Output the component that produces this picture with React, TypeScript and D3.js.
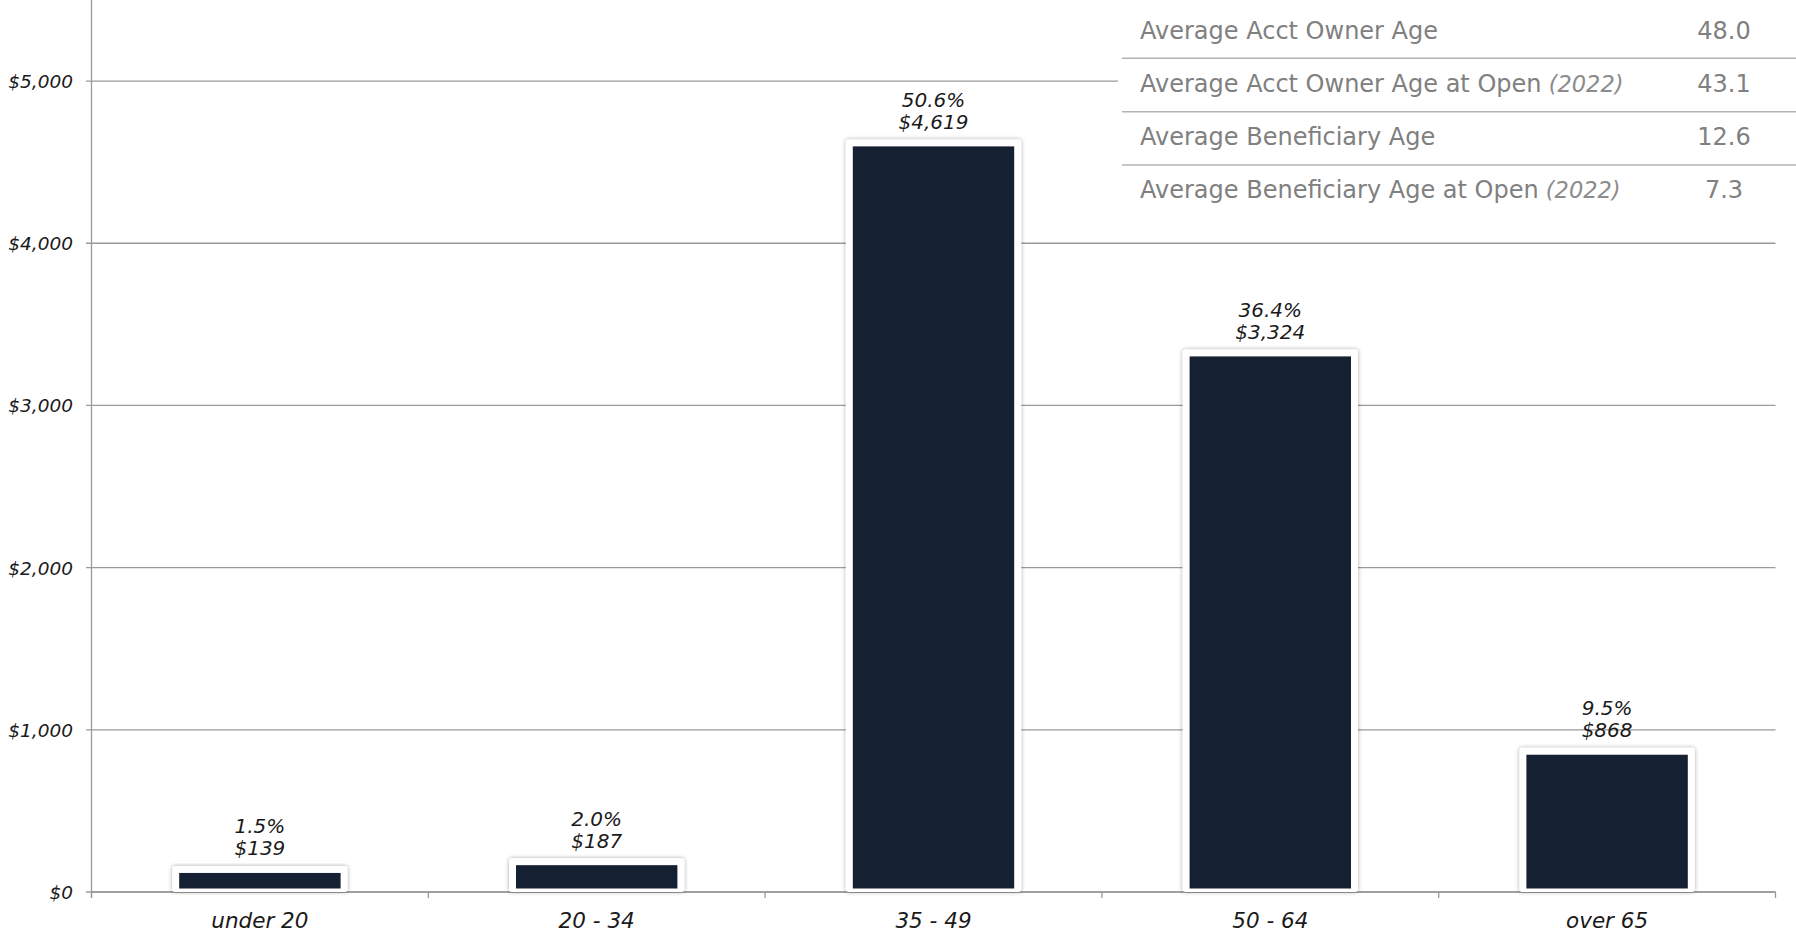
import React from "react";
import * as d3 from "d3";

// age groups of account owners, average balance and share
const categories = ["under 20", "20 - 34", "35 - 49", "50 - 64", "over 65"];
const amounts = [139, 187, 4619, 3324, 868];
const shares = ["1.5%", "2.0%", "50.6%", "36.4%", "9.5%"];
const yTicks = [0, 1000, 2000, 3000, 4000, 5000];

// summary table, top right
const statLabels = [
  "Average Acct Owner Age",
  "Average Acct Owner Age at Open",
  "Average Beneficiary Age",
  "Average Beneficiary Age at Open",
];
const statNotes = ["", "(2022)", "", "(2022)"];
const statValues = ["48.0", "43.1", "12.6", "7.3"];

const W = 1796;
const H = 936;
const FONT = "Verdana, 'DejaVu Sans', sans-serif";

export default function App() {
  const x = d3
    .scaleBand<string>()
    .domain(categories)
    .range([91.5, 1775.5])
    .paddingInner(0.5)
    .paddingOuter(0.25);

  const y = d3.scaleLinear().domain([0, 5500]).range([892, 0]);
  const y0 = y(0);
  const step = x.step();
  const bw = x.bandwidth();
  const sw = 3.5; // half of the white frame

  const rows = d3
    .scaleBand<string>()
    .domain(statLabels)
    .range([5, 218.3]);

  const fmt = d3.format("$,.0f");

  return (
    <svg
      width={W}
      height={H}
      style={{ position: "absolute", left: 0, top: 0, background: "#fff" }}
      fontFamily={FONT}
    >
      <defs>
        <filter id="shadow" x="-10%" y="-10%" width="120%" height="120%">
          <feDropShadow dx="0" dy="0" stdDeviation="2.2" floodColor="#000" floodOpacity="0.35" />
        </filter>
      </defs>

      {/* grid */}
      {yTicks.map((t) => (
        <g key={t}>
          <line x1={86} x2={1775.5} y1={y(t)} y2={y(t)} stroke="#9a9a9a" strokeWidth={1.3} />
          <text
            x={73}
            y={y(t) + 7}
            textAnchor="end"
            fontSize={18.5}
            fontStyle="italic"
            fill="#1a1a1a"
          >
            {fmt(t)}
          </text>
        </g>
      ))}

      {/* axes */}
      <line x1={91.5} x2={91.5} y1={0} y2={898} stroke="#9a9a9a" strokeWidth={1.3} />
      <line x1={91.5} x2={1775.5} y1={y0} y2={y0} stroke="#9a9a9a" strokeWidth={1.3} />
      {d3.range(categories.length + 1).map((i) => (
        <line
          key={i}
          x1={91.5 + i * step}
          x2={91.5 + i * step}
          y1={y0}
          y2={y0 + 6}
          stroke="#9a9a9a"
          strokeWidth={1.3}
        />
      ))}

      {/* bars */}
      {categories.map((c, i) => {
        const bx = x(c) as number;
        const top = y(amounts[i]);
        return (
          <g key={c}>
            <rect
              x={bx - sw}
              y={top - sw}
              width={bw + sw * 2}
              height={y0 - top + sw}
              rx={3}
              fill="#fff"
              filter="url(#shadow)"
            />
            <rect
              x={bx + sw}
              y={top + sw}
              width={bw - sw * 2}
              height={y0 - top - sw * 2}
              fill="#152032"
            />
            <text
              x={bx + bw / 2}
              y={top - 36}
              textAnchor="middle"
              fontSize={20}
              fontStyle="italic"
              fill="#1a1a1a"
            >
              {shares[i]}
            </text>
            <text
              x={bx + bw / 2}
              y={top - 14}
              textAnchor="middle"
              fontSize={20}
              fontStyle="italic"
              fill="#1a1a1a"
            >
              {fmt(amounts[i])}
            </text>
            <text
              x={bx + bw / 2}
              y={928}
              textAnchor="middle"
              fontSize={21.5}
              fontStyle="italic"
              fill="#1a1a1a"
            >
              {c}
            </text>
          </g>
        );
      })}

      {/* summary table */}
      <rect x={1118} y={0} width={W - 1118} height={222} fill="#fff" />
      {statLabels.map((s, i) => {
        const ry = rows(s) as number;
        return (
          <g key={s}>
            {i > 0 && (
              <line x1={1122} x2={W} y1={ry} y2={ry} stroke="#b3b3b3" strokeWidth={1.5} />
            )}
            <text x={1140} y={ry + 33.5} fontSize={24} fill="#808080">
              {s}
              {statNotes[i] && (
                <tspan fontStyle="italic" fontSize={22.5} fill="#8c8c8c">
                  {" " + statNotes[i]}
                </tspan>
              )}
            </text>
            <text x={1724} y={ry + 33.5} fontSize={24} fill="#808080" textAnchor="middle">
              {statValues[i]}
            </text>
          </g>
        );
      })}
    </svg>
  );
}
